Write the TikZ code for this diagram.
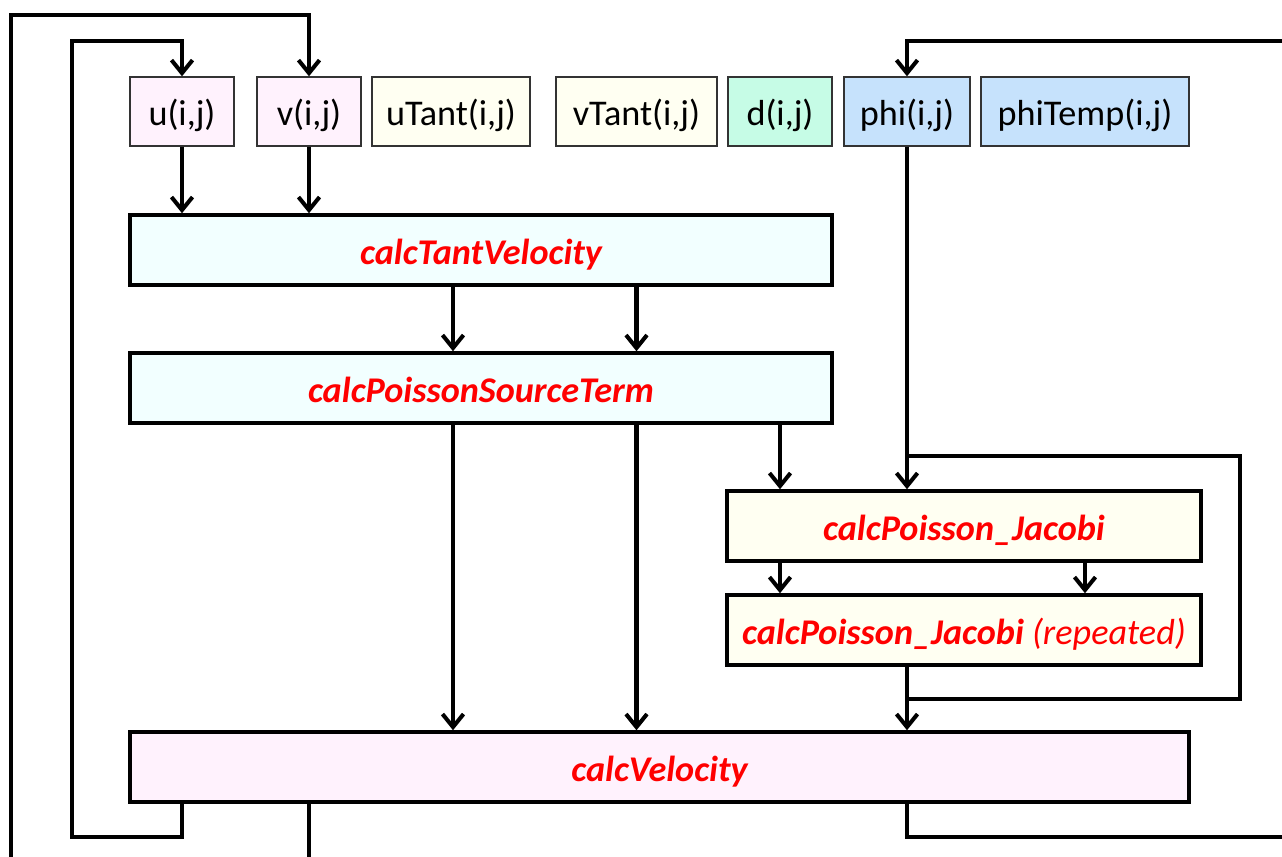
\documentclass[tikz,border=0pt]{standalone}
\usepackage{fontspec}
\setmainfont{Carlito}
\usepackage{tikz}
\usetikzlibrary{arrows.meta}
\usetikzlibrary{positioning}
\definecolor{pinkfill}{HTML}{FFF2FD}
\definecolor{ivoryfill}{HTML}{FFFFF2}
\definecolor{mintfill}{HTML}{C6FCE6}
\definecolor{bluefill}{HTML}{C6E2FC}
\definecolor{cyanfill}{HTML}{F2FFFF}
\tikzset{
    Var/.style = {rectangle, draw=black!80, line width=0.8pt, minimum height=1.38cm, inner sep=0pt, text height=16pt, text depth=0pt, align=center}
}
\tikzset{
    Func/.style = {rectangle, draw=black, line width=2pt, minimum height=1.4cm, inner sep=0pt, text height=16pt, text depth=0pt, align=center, text=red, font=\fontsize{20.6}{24}\selectfont\bfseries\itshape}
}
\tikzset{
    Line/.style = {draw=black, line width=2.3pt, line join=miter},
    Edge/.style = {Line, -{Straight Barb[length=0.26cm, width=0.42cm]}}
}

\begin{document}
\begin{tikzpicture}[
    x=0.02cm, y=-0.02cm,
    font=\fontsize{20.6}{24}\selectfont
]
\useasboundingbox (0,0) rectangle (1282,856);
\clip (0,0) rectangle (1282,856);

% variables
\node[Var, fill=pinkfill, minimum width=2.08cm] at (182,111.5) (u) {u(i,j)};
\node[Var, fill=pinkfill, minimum width=2.08cm] at (309,111.5) (v) {v(i,j)};
\node[Var, fill=ivoryfill, minimum width=3.16cm] at (451,111.5) (uTant) {uTant(i,j)};
\node[Var, fill=ivoryfill, minimum width=3.22cm] at (636.5,111.5) (vTant) {vTant(i,j)};
\node[Var, fill=mintfill, minimum width=2.08cm] at (780,111.5) (d) {d(i,j)};
\node[Var, fill=bluefill, minimum width=2.52cm] at (907,111.5) (phi) {phi(i,j)};
\node[Var, fill=bluefill, minimum width=4.16cm] at (1085,111.5) (phiTemp) {phiTemp(i,j)};

% subroutines
\node[Func, fill=cyanfill, minimum width=14.04cm] at (481,250) (tant) {calcTantVelocity};
\node[Func, fill=cyanfill, minimum width=14.04cm] at (481,388) (source) {calcPoissonSourceTerm};
\node[Func, fill=ivoryfill, minimum width=9.48cm] at (964,526) (jacobi) {calcPoisson\_Jacobi};
\node[Func, fill=ivoryfill, minimum width=9.48cm] at (964,630) (repeat) {calcPoisson\_Jacobi \textmd{(repeated)}};
\node[Func, fill=pinkfill, minimum width=21.18cm] at (659.5,767) (vel) {calcVelocity};

\coordinate (jtop) at (1240,456);
\coordinate (jbot) at (1240,699);
\coordinate (rtop) at (1310,41);
\coordinate (rbot) at (1310,837);
\coordinate (ltop) at (72,41);
\coordinate (lbot) at (72,837);
\coordinate (otop) at (11,15);
\coordinate (obot) at (11,880);

\path (u.south) edge [Edge] (u.south |- tant.north);
\path (v.south) edge [Edge] (v.south |- tant.north);
\path (tant.south -| 453,0) edge [Edge] (source.north -| 453,0);
\path (tant.south -| vTant) edge [Edge] (source.north -| vTant);
\path (source.south -| 453,0) edge [Edge] (vel.north -| 453,0);
\path (source.south -| vTant) edge [Edge] (vel.north -| vTant);
\path (source.south -| d) edge [Edge] (jacobi.north -| d);
\path (phi.south) edge [Edge] (phi |- jacobi.north);
\path (jacobi.south -| d) edge [Edge] (repeat.north -| d);
\path (jacobi.south -| phiTemp) edge [Edge] (repeat.north -| phiTemp);
\draw[Line] (repeat.south -| phi) |- (jbot) -- (jtop) -- (jtop -| phi);
\path (jbot -| phi) edge [Edge] (vel.north -| phi);

% feedback loops
\draw[Edge] (vel.south -| phi) |- (rbot) -- (rtop) -| (phi.north);
\draw[Edge] (vel.south -| u) |- (lbot) -- (ltop) -| (u.north);
\draw[Edge] (vel.south -| v) |- (obot) -- (otop) -| (v.north);
\end{tikzpicture}
\end{document}
